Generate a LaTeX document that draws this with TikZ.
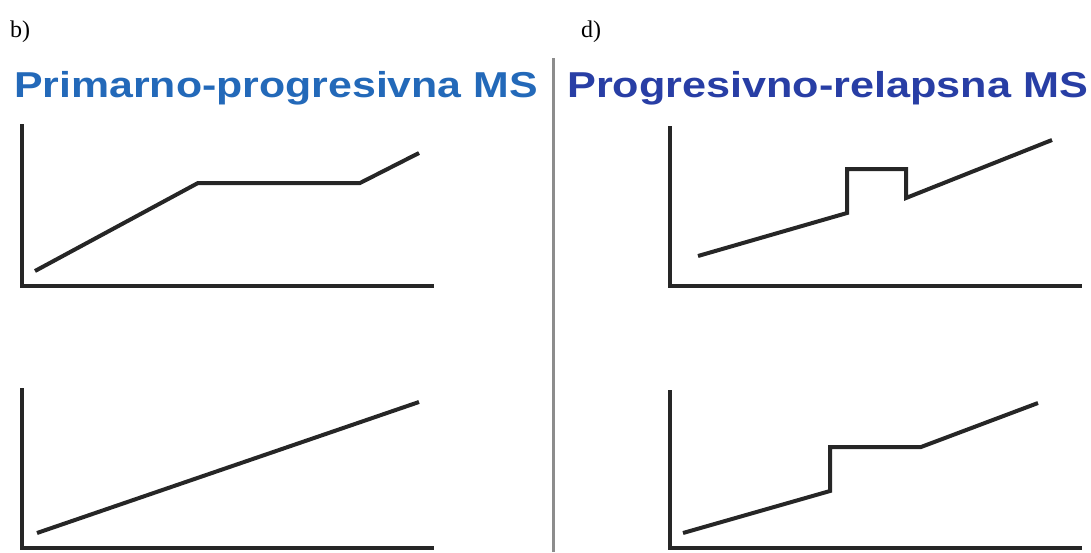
\documentclass[tikz,border=0pt]{standalone}
\usepackage{fontspec}
\setmainfont{Liberation Serif}
\newfontfamily\titlefont{Liberation Sans}
\definecolor{ppblue}{RGB}{35,105,185}
\definecolor{prblue}{RGB}{40,62,165}
\begin{document}
\begin{tikzpicture}[x=1pt,y=-1pt,
      axis/.style={line width=3.5pt,black!85},
      course/.style={line width=4pt,black!85,line join=miter},
      title/.style={font=\titlefont\bfseries\fontsize{36}{40}\selectfont,
        inner sep=0pt,anchor=base west},
      tag/.style={font=\fontsize{24}{28}\selectfont,inner sep=0pt,
        anchor=base west}]
      \useasboundingbox (0,0) rectangle (1091,552);
      \node[tag] (TagB) at (10,37) {b)};
      \node[tag] (TagD) at (581,37) {d)};
      \node[title,text=ppblue,xscale=1.19] (TitPP) at (14,97)
        {Primarno-progresivna MS};
      \node[title,text=prblue,xscale=1.20] (TitPR) at (567,97)
        {Progresivno-relapsna MS};
      \draw[line width=3pt,black!45] (553,58) -- (553,552); % separator
      % left: primarno-progresivna
      \draw[axis] (22,124) |- (434,286);
      \draw[course] (35,271) -- (198,183) -- (360,183) -- (419,153);
      \draw[axis] (22,388) |- (434,548);
      \draw[course] (37,533) -- (419,402);
      % right: progresivno-relapsna
      \draw[axis] (670,126) |- (1082,286);
      \draw[course] (698,256) -- (847,213) -- (847,169) -- (906,169)
        -- (906,198) -- (1052,140);
      \draw[axis] (670,390) |- (1082,548);
      \draw[course] (683,533) -- (830,491) -- (830,447) -- (921,447)
        -- (1038,403);
    \end{tikzpicture}
\end{document}
